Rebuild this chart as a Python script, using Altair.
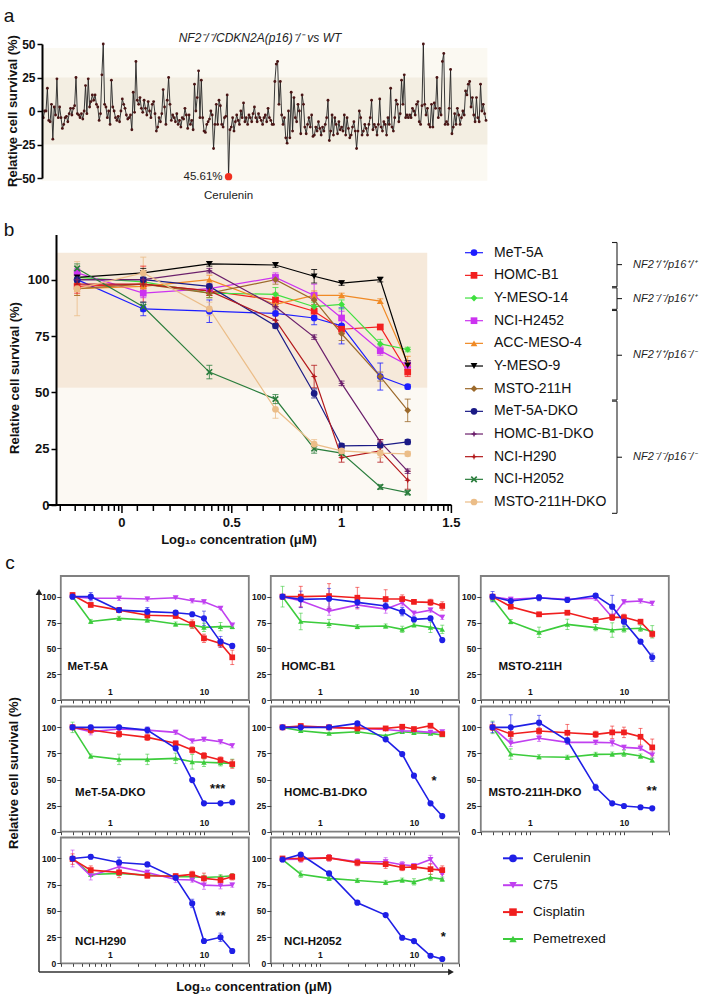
import altair as alt
import numpy as np
import pandas as pd

FONT = "Liberation Sans"
W, H = 708, 1000

# ======================= DATA =======================
# ---- panel a
A_TITLE = "NF2⁻/⁻/CDKN2A(p16)⁻/⁻ vs WT"
A_YTITLE = "Relative cell survival (%)"
A_HIT_NAME = "Cerulenin"
A_HIT_LABEL = "45.61%"
A_YTICKS = [-50, -25, 0, 25, 50]
A_BAND_OUTER = [-52, 47]
A_BAND_INNER = [-25, 25]
A_VALUES = [
    -5, 0, 0, 17, -7, -8, 5, -21, 3, -3, 24, -5, 3, -5, -13, -10, -5, -4, -8, -2,
    2, -3, 2, 4, 25, -2, -3, -5, -2, -6, 0, 19, -2, 24, 3, 7, 12, 8, 12, 5, 3, -7, -2,
    27, 50, 5, 3, -5, 0, -10, 23, 3, 0, -5, -7, -4, -8, 0, 9, 5, 2, -3, -6,
    -5, -3, -14, 14, -1, 37, 8, 5, 10, 2, -1, 8, 2, -3, 7, 0, -5, 5, 7, -2,
    -15, -12, -5, -8, -2, 16, 3, -10, 8, 25, 5, -7, -3, -5, -8, -2, -10, -7, -12, -5,
    -6, 2, -3,
    -13, -3, -10, -7, -14, 20, 0, 10, 30, -5, 23, -5, -15, -16, -10, -8, -6, 0, -3, -28,
    -10, 5, -10, 8, 4, -10, -12, -5, -4, 12,
    -49,
    -14, -12, -5, -15, -8, -3, -7, -10, 0, -5,
    6, -8, -5, -10, -3, -5, -8, -2, 3, -5,
    -8, -2, -5, -7, -10, -5, -3, -8, 2, -5,
    -7, -10, -10, 22, 35, 37, 5, 22, -3, -10,
    -5, -20, -24, 0, -20, 14, -15, 10, -5, -8,
    5, 0, -17, 12, 5, -12, -17, -10, -5, -12,
    -3, -19, -18, -12, -15, -8, -13, -18, -12, -15,
    -10, -5, 8, -22, -15, -3, -18, -5, -10, -17,
    -8, -14, -12, -15, -3, -18, -5, -13, -20, -18,
    -12, -8, -15, -28, -15, 0, -5, -18, -15, -10,
    -13, -18, -10, -5, 8, -14, -10, -12, -18, -10,
    9, -12, -15, -8, -10, -18, -5, -10, 17, -12,
    -15, -5, 8, 5, -8, -2, 23, 5, 27, -5,
    -3, -5, -3, -5, 2, 0, -3, 5, 7, -8,
    -10, 4, 50, 5, -3, 2, -10, -12, 5, -12,
    6, 2, 25, -5, 2, -3, 37, 43, -10, -8,
    -10, 2, 31, -17, -12, -2, -10, 2, -3, -10,
    -5, 0, -3, 15, 12, 20, 22, 3, 10, -3,
    -8, 10, -5, -8, 20, 0, 5, -2, -7,
]

# ---- panel b
B_NAMES = ["MeT-5A", "HOMC-B1", "Y-MESO-14", "NCI-H2452", "ACC-MESO-4", "Y-MESO-9",
           "MSTO-211H", "MeT-5A-DKO", "HOMC-B1-DKO", "NCI-H290", "NCI-H2052", "MSTO-211H-DKO"]
B_CONC = [0.625, 1.25, 2.5, 5, 7.5, 10, 15, 20]
B_VALUES = {
    "MeT-5A":        [100, 87, 86, 85, 83, 79.5, 57, 52.5],
    "HOMC-B1":       [97, 98, 95, 91, 86, 78, 79, 59],
    "Y-MESO-14":     [101, 99, 94, 93.5, 88, 89, 71.5, 69],
    "NCI-H2452":     [103, 94, 96, 101, 93, 83, 68.5, 62],
    "ACC-MESO-4":    [96, 97, 100, 89, 93, 93, 90.5, 63],
    "Y-MESO-9":      [101, 103, 107, 106.5, 101.5, 98.5, 100, 62],
    "MSTO-211H":     [96, 98, 94, 100, 91, 76, 57, 42],
    "MeT-5A-DKO":    [100, 100, 97, 79.5, 49.5, 26.2, 26.5, 28],
    "HOMC-B1-DKO":   [100, 100, 104, 88, 74.5, 54, 28, 15],
    "NCI-H290":      [98, 98, 95, 82, 57, 21, 24, 11],
    "NCI-H2052":     [105, 88, 59, 47, 25, 23, 8, 5.5],
    "MSTO-211H-DKO": [96, 103, 87, 42.5, 27, 24, 23, 22.7],
}
B_ERRORS = {
    "MeT-5A":        [3, 3, 5, 3, 3, 8, 6, 1],
    "HOMC-B1":       [3, 8, 2, 3, 2, 2, 1, 2],
    "Y-MESO-14":     [2, 2, 2, 3, 2, 2, 2, 1],
    "NCI-H2452":     [2, 2, 2, 2, 5, 3, 2, 2],
    "ACC-MESO-4":    [3, 2, 2, 3, 2, 1, 1, 3],
    "Y-MESO-9":      [2, 2, 1, 1, 3, 1, 1, 2],
    "MSTO-211H":     [3, 2, 2, 2, 2, 3, 2, 5],
    "MeT-5A-DKO":    [2, 1, 1, 1, 2, 1, 1, 1],
    "HOMC-B1-DKO":   [1, 1, 1, 1, 1, 1, 1, 1],
    "NCI-H290":      [2, 2, 2, 2, 5, 2, 5, 4],
    "NCI-H2052":     [2, 2, 3, 2, 2, 1, 1, 1],
    "MSTO-211H-DKO": [12, 7, 3, 4, 2, 2, 2, 1],
}
B_GROUP_LABELS = ["NF2⁺/⁺/p16⁺/⁺", "NF2⁻/⁻/p16⁺/⁺", "NF2⁺/⁺/p16⁻/⁻", "NF2⁻/⁻/p16⁻/⁻"]
B_GROUP_FIRST = [0, 2, 3, 7]
B_GROUP_LAST = [1, 2, 6, 11]
B_MAJOR = [0, 0.5, 1, 1.5]
B_MINOR_FRACS = [0.14, 0.286, 0.438, 0.574, 0.665, 0.748, 0.818, 0.878, 0.93, 0.97]
B_XDOM = [-0.34, 1.5]
B_YDOM = [0, 120]
B_YTICKS = [0, 25, 50, 75, 100]
B_BAND_X = [-0.3, 1.39]
B_BAND_LOW = [0, 52]
B_BAND_HIGH = [52, 112]

# ---- panel c
C_PANELS = ["MeT-5A", "HOMC-B1", "MSTO-211H", "MeT-5A-DKO", "HOMC-B1-DKO",
            "MSTO-211H-DKO", "NCI-H290", "NCI-H2052"]
C_DRUGS = ["Cerulenin", "C75", "Cisplatin", "Pemetrexed"]
C_CONC = [0.4, 0.625, 1.25, 2.5, 5, 7.5, 10, 15, 20]
C_VALUES = {
    "MeT-5A": {
        "Cerulenin": [100, 100, 87, 85.5, 84.5, 83, 79, 56.5, 52.3],
        "C75": [100, 98.4, 98.4, 97.7, 99, 96, 95, 88.7, 72.6],
        "Cisplatin": [101.6, 92, 87, 82, 81.3, 73.5, 59.7, 54.8, 41.3],
        "Pemetrexed": [100, 76, 79, 77.4, 73.5, 72.6, 70.3, 71, 71]},
    "HOMC-B1": {
        "Cerulenin": [100, 97.4, 98, 94.5, 91, 85.5, 78, 79, 58],
        "C75": [100, 96, 86, 92, 88, 94, 84, 87, 80],
        "Cisplatin": [100, 100, 100.6, 99, 97.7, 97.7, 95, 94.5, 91],
        "Pemetrexed": [100, 76, 74, 71, 71.6, 68.4, 72.6, 70.3, 68.4]},
    "MSTO-211H": {
        "Cerulenin": [100, 95.8, 99, 96.8, 101, 90.3, 75.8, 56.5, 41.3],
        "C75": [100, 97.4, 99, 97.4, 98.4, 80, 95, 95.8, 93.5],
        "Cisplatin": [100, 90.3, 82.9, 84.5, 77.4, 80, 80, 75.8, 63.9],
        "Pemetrexed": [98.4, 75.8, 65.5, 73.2, 70, 67.7, 68.7, 69.4, 66]},
    "MeT-5A-DKO": {
        "Cerulenin": [100, 100, 100, 97.4, 79.9, 49.5, 27.2, 27.2, 28.2],
        "C75": [100, 95.8, 98.4, 97.4, 95.2, 86.9, 88.5, 86.2, 82.4],
        "Cisplatin": [100, 97.4, 93.6, 90.4, 84.7, 78.3, 72.8, 68.7, 64.8],
        "Pemetrexed": [100, 72.5, 69.3, 69.3, 70.3, 67, 66.5, 66, 65.5]},
    "HOMC-B1-DKO": {
        "Cerulenin": [100, 100, 100, 103.8, 88.5, 74.4, 53.7, 27.2, 15],
        "C75": [100, 100.6, 100, 99, 98, 96.5, 96.5, 95.2, 95.8],
        "Cisplatin": [100, 101.3, 100, 99, 99, 100.6, 98.4, 101.6, 93.6],
        "Pemetrexed": [100, 96.8, 94.2, 95.8, 92, 95.8, 94.9, 94.2, 92.7]},
    "MSTO-211H-DKO": {
        "Cerulenin": [100, 100, 104.5, 87.3, 42.5, 27.2, 24.6, 23.4, 22.4],
        "C75": [100, 84.7, 89.5, 85.6, 85.6, 85.2, 80.8, 79.9, 73.5],
        "Cisplatin": [100, 93.6, 96.5, 94.8, 93.3, 95.2, 95.2, 91, 80.8],
        "Pemetrexed": [100, 74.4, 71.8, 71.3, 74.1, 74.4, 75.1, 72.5, 68.7]},
    "NCI-H290": {
        "Cerulenin": [100, 101.6, 96.2, 94.3, 81.6, 57.1, 21.3, 24.8, 11.7],
        "C75": [100, 83.5, 92, 86.7, 80, 79.4, 74.6, 74, 74.6],
        "Cisplatin": [99.4, 88.9, 86.7, 83.5, 83.2, 84.8, 81, 79.4, 82.5],
        "Pemetrexed": [100, 84.8, 85.7, 84.1, 82.5, 82.5, 81.9, 82.5, 83.5]},
    "NCI-H2052": {
        "Cerulenin": [99, 103.8, 85.7, 57.8, 46, 24.4, 21.2, 7.2, 4.1],
        "C75": [99, 99.4, 100.6, 96.8, 96.8, 94, 93, 99, 85],
        "Cisplatin": [100, 100, 100.6, 96, 94.6, 91.4, 92, 89.8, 88.9],
        "Pemetrexed": [99, 85, 81, 79, 77.1, 79.3, 77.7, 81.9, 80.3]},
}
C_ERRORS = {
    "MeT-5A": {"Cerulenin": [2, 4, 2, 4, 2, 2, 7, 5, 2], "C75": [1, 1, 2, 2, 1, 2, 2, 1, 1],
               "Cisplatin": [2, 2, 2, 3, 2, 4, 4, 4, 7], "Pemetrexed": [2, 2, 2, 2, 2, 3, 4, 4, 2]},
    "HOMC-B1": {"Cerulenin": [2, 8, 10, 5, 3, 4, 2, 2, 2], "C75": [2, 6, 4, 4, 4, 3, 2, 2, 2],
                "Cisplatin": [2, 10, 12, 10, 9, 4, 2, 3, 4], "Pemetrexed": [10, 8, 4, 2, 2, 3, 2, 5, 4]},
    "MSTO-211H": {"Cerulenin": [5, 3, 3, 2, 2, 11, 5, 2, 4], "C75": [2, 2, 2, 2, 2, 3, 2, 2, 2],
                  "Cisplatin": [2, 2, 2, 2, 2, 3, 3, 2, 3], "Pemetrexed": [3, 2, 5, 5, 3, 7, 3, 3, 6]},
    "MeT-5A-DKO": {"Cerulenin": [2, 2, 2, 3, 2, 1, 1, 1, 1], "C75": [2, 3, 2, 2, 2, 2, 2, 2, 2],
                   "Cisplatin": [2, 3, 3, 3, 2, 3, 3, 3, 4], "Pemetrexed": [5, 2, 5, 5, 5, 7, 4, 3, 4]},
    "HOMC-B1-DKO": {"Cerulenin": [1, 1, 1, 1, 1, 1, 1, 1, 1], "C75": [1, 1, 1, 1, 1, 1, 1, 1, 1],
                    "Cisplatin": [1, 2, 1, 1, 1, 1, 1, 2, 2], "Pemetrexed": [1, 1, 1, 1, 1, 1, 1, 1, 1]},
    "MSTO-211H-DKO": {"Cerulenin": [5, 12, 7, 3, 3, 1, 1, 1, 1], "C75": [2, 3, 3, 2, 2, 3, 2, 2, 3],
                      "Cisplatin": [3, 4, 3, 8, 3, 6, 5, 8, 8], "Pemetrexed": [6, 5, 2, 2, 2, 2, 3, 2, 2]},
    "NCI-H290": {"Cerulenin": [2, 2, 5, 2, 2, 4, 2, 4, 2], "C75": [8, 4, 3, 2, 3, 2, 4, 3, 2],
                 "Cisplatin": [5, 4, 5, 2, 2, 3, 5, 4, 3], "Pemetrexed": [2, 2, 2, 2, 2, 2, 2, 2, 2]},
    "NCI-H2052": {"Cerulenin": [2, 1, 2, 1, 1, 1, 1, 1, 1], "C75": [2, 3, 3, 3, 4, 3, 2, 4, 4],
                  "Cisplatin": [1, 3, 3, 3, 4, 3, 2, 5, 4], "Pemetrexed": [1, 3, 2, 2, 2, 2, 3, 3, 2]},
}
C_STARS = {"MeT-5A-DKO": ("***", 14, 45), "HOMC-B1-DKO": ("*", 16.4, 52),
           "MSTO-211H-DKO": ("**", 19.7, 43), "NCI-H290": ("**", 15, 49),
           "NCI-H2052": ("*", 20.5, 29)}
C_XDOM = [0.3, 30]
C_YDOM = [0, 120]
C_YTICKS = [0, 25, 50, 75, 100]
X_TITLE = "Log₁₀ concentration (μM)"

# ======================= STYLE =======================
STAR4 = "M0,-1L0.28,-0.28L1,0L0.28,0.28L0,1L-0.28,0.28L-1,0L-0.28,-0.28Z"
XSHAPE = "M-1,-0.65L-0.65,-1L0,-0.35L0.65,-1L1,-0.65L0.35,0L1,0.65L0.65,1L0,0.35L-0.65,1L-1,0.65L-0.35,0Z"
B_COLORS = ["#1d1dff", "#f22020", "#3fe03f", "#cc33f0", "#f08a25", "#000000",
            "#9c6a2c", "#1b1b86", "#6b1f6b", "#b3191c", "#2a7d3c", "#ebbd88"]
B_SHAPES = ["circle", "square", "diamond", "square", "triangle-up", "triangle-down",
            "diamond", "circle", STAR4, STAR4, XSHAPE, "circle"]
B_SIZES = [45, 45, 22, 85, 75, 95, 55, 45, 25, 60, 45, 100]
C_COLORS = ["#1f1fe6", "#c040f0", "#f01e1e", "#3ccc3c"]
C_SHAPES = ["circle", "triangle-down", "square", "triangle-up"]
C_SIZES = [38, 30, 40, 22]
C_DRAW_ORDER = ["Pemetrexed", "C75", "Cisplatin", "Cerulenin"]
C_COL_X = [(60.8, 248.8), (270.8, 458.8), (480.8, 668.8)]
C_ROW_Y = [(700, 576), (831.7, 706.5), (963.3, 837.5)]
C_NAME_POS = [(6.6, 90.7), (10.7, 90.7), (17.6, 90.7), (14.3, 86.6), (13.3, 86.6),
              (7.6, 86.6), (14.3, 104.4), (13.3, 104.4)]


def lscale(domain, rng):
    return alt.Scale(domain=domain, range=rng, nice=False, zero=False)


def text_at(txt, x, y, size=12, weight="normal", style="normal", angle=0,
            align="center", color="#111"):
    df = pd.DataFrame({"t": [txt]})
    return alt.Chart(df).mark_text(
        align=align, baseline="middle", fontSize=size, fontWeight=weight,
        fontStyle=style, angle=angle, font=FONT, color=color
    ).encode(x=alt.value(x), y=alt.value(y), text="t:N")


layers = []

# ======================= PANEL A =======================
n = len(A_VALUES)
a_df = pd.DataFrame({"i": np.arange(n), "v": A_VALUES})
hit = int(np.argmin(A_VALUES))
a_hit = pd.DataFrame({"i": [hit], "v": [A_VALUES[hit]], "pct": [A_HIT_LABEL], "name": [A_HIT_NAME]})
ax_s = lscale([0, n - 1], [43.3, 486])
ay_s = lscale([-50, 50], [178, 44])
a_axis = alt.Axis(orient="left", offset=-42, values=A_YTICKS, title=None, grid=False, zindex=1,
                  domainColor="#000", domainWidth=2, tickColor="#000", tickWidth=1.5,
                  tickSize=5, labelFont=FONT, labelFontSize=12, labelFontWeight="bold",
                  labelColor="#111", labelPadding=2)
aX = alt.X("i:Q", scale=ax_s, axis=None)
aY = alt.Y("v:Q", scale=ay_s)
band_o = pd.DataFrame({"x1": [-1], "x2": [n], "y1": [A_BAND_OUTER[0]], "y2": [A_BAND_OUTER[1]]})
band_i = pd.DataFrame({"x1": [-1], "x2": [n], "y1": [A_BAND_INNER[0]], "y2": [A_BAND_INNER[1]]})
a_band_o = alt.Chart(band_o).mark_rect(color="#fbf9f2").encode(
    x=alt.X("x1:Q", scale=ax_s, axis=None), x2="x2:Q",
    y=alt.Y("y1:Q", scale=ay_s, axis=a_axis), y2="y2:Q")
a_band_i = alt.Chart(band_i).mark_rect(color="#f3eee2").encode(
    x=alt.X("x1:Q", scale=ax_s, axis=None), x2="x2:Q",
    y=alt.Y("y1:Q", scale=ay_s), y2="y2:Q")
a_line = alt.Chart(a_df).mark_line(color="#222", strokeWidth=0.9).encode(x=aX, y=aY)
a_pts = alt.Chart(a_df).mark_circle(size=8, color="#4a1515", opacity=1).encode(x=aX, y=aY)
a_hit_pt = alt.Chart(a_hit).mark_circle(size=55, color="#f03020", opacity=1).encode(x=aX, y=aY)
a_pct = alt.Chart(a_hit).mark_text(align="right", baseline="middle", dx=-6, fontSize=11.5,
                                   font=FONT, color="#222").encode(x=aX, y=aY, text="pct:N")
a_name = alt.Chart(a_hit).mark_text(align="center", baseline="middle", dy=19, fontSize=11.5,
                                    font=FONT, color="#222").encode(x=aX, y=aY, text="name:N")
layers.append(alt.layer(a_band_o, a_band_i, a_line, a_pts, a_hit_pt, a_pct, a_name))

# ======================= PANEL B =======================
rows = []
for name in B_NAMES:
    for c, v, e in zip(B_CONC, B_VALUES[name], B_ERRORS[name]):
        rows.append({"series": name, "lx": float(np.log10(c)), "v": v, "lo": v - e, "hi": v + e})
b_df = pd.DataFrame(rows)
b_minor = [m + 0.5 * f for m in [-0.5] + B_MAJOR[:-1] for f in B_MINOR_FRACS]
b_minor = [t for t in b_minor if B_XDOM[0] <= t <= B_XDOM[1]]
bx_s = lscale(B_XDOM, [47.3, 451.4])
by_s = lscale(B_YDOM, [505, 234.6])
b_yaxis = alt.Axis(orient="left", offset=-56, values=B_YTICKS, title=None, grid=False, zindex=1,
                   domainColor="#000", domainWidth=2, tickColor="#000", tickWidth=1.5, tickSize=5,
                   labelFont=FONT, labelFontSize=13, labelFontWeight="bold", labelColor="#111",
                   labelPadding=2)
bb_low = pd.DataFrame({"x1": [B_BAND_X[0]], "x2": [B_BAND_X[1]], "y1": [B_BAND_LOW[0]], "y2": [B_BAND_LOW[1]]})
bb_high = pd.DataFrame({"x1": [B_BAND_X[0]], "x2": [B_BAND_X[1]], "y1": [B_BAND_HIGH[0]], "y2": [B_BAND_HIGH[1]]})
b_band_l = alt.Chart(bb_low).mark_rect(color="#fcf9f3").encode(
    x=alt.X("x1:Q", scale=bx_s, axis=None), x2="x2:Q",
    y=alt.Y("y1:Q", scale=by_s, axis=b_yaxis), y2="y2:Q")
b_band_h = alt.Chart(bb_high).mark_rect(color="#f6e9da").encode(
    x=alt.X("x1:Q", scale=bx_s), x2="x2:Q",
    y=alt.Y("y1:Q", scale=by_s), y2="y2:Q")
# x axis of panel b, drawn with marks through the x scale
b_dom = alt.Chart(pd.DataFrame({"x1": [B_XDOM[0]], "x2": [B_XDOM[1]]})).mark_rule(
    color="#000", strokeWidth=2).encode(x=alt.X("x1:Q", scale=bx_s), x2="x2:Q", y=alt.value(505))
b_tmin = alt.Chart(pd.DataFrame({"t": b_minor})).mark_rule(color="#000", strokeWidth=1.5).encode(
    x=alt.X("t:Q", scale=bx_s), y=alt.value(505), y2=alt.value(511))
b_maj_df = pd.DataFrame({"t": B_MAJOR, "lab": [f"{m:g}" for m in B_MAJOR]})
b_tmaj = alt.Chart(b_maj_df).mark_rule(color="#000", strokeWidth=1.5).encode(
    x=alt.X("t:Q", scale=bx_s), y=alt.value(505), y2=alt.value(513))
b_tlab = alt.Chart(b_maj_df).mark_text(baseline="top", align="center", fontSize=13, fontWeight="bold",
                                       font=FONT, color="#111").encode(
    x=alt.X("t:Q", scale=bx_s), y=alt.value(517), text="lab:N")
b_color = alt.Color("series:N", scale=alt.Scale(domain=B_NAMES, range=B_COLORS), legend=None)
b_shape = alt.Shape("series:N", scale=alt.Scale(domain=B_NAMES, range=B_SHAPES), legend=None)
b_size = alt.Size("series:O", scale=alt.Scale(domain=B_NAMES, range=B_SIZES), legend=None)
bX = alt.X("lx:Q", scale=bx_s)
b_err = alt.Chart(b_df).mark_rule(strokeWidth=1, opacity=0.8).encode(
    x=bX, y=alt.Y("lo:Q", scale=by_s), y2="hi:Q", color=b_color)
b_cap1 = alt.Chart(b_df).mark_tick(orient="horizontal", size=6, thickness=1, opacity=0.8).encode(
    x=bX, y=alt.Y("lo:Q", scale=by_s), color=b_color)
b_cap2 = alt.Chart(b_df).mark_tick(orient="horizontal", size=6, thickness=1, opacity=0.8).encode(
    x=bX, y=alt.Y("hi:Q", scale=by_s), color=b_color)
b_line = alt.Chart(b_df).mark_line(strokeWidth=1.2).encode(
    x=bX, y=alt.Y("v:Q", scale=by_s), color=b_color)
b_pts = alt.Chart(b_df).mark_point(filled=True, opacity=1).encode(
    x=bX, y=alt.Y("v:Q", scale=by_s), color=b_color, shape=b_shape, size=b_size)
layers.append(alt.layer(b_band_l, b_band_h, b_dom, b_tmin, b_tmaj, b_tlab,
                        b_err, b_cap1, b_cap2, b_line, b_pts))

# legend b + braces
bl_df = pd.DataFrame({"series": B_NAMES, "k": np.arange(len(B_NAMES))})
bl_y = lscale([0, len(B_NAMES) - 1], [252.7, 502])
blY = alt.Y("k:Q", scale=bl_y, axis=None)
bl_rule = alt.Chart(bl_df).mark_rule(strokeWidth=1.2).encode(
    x=alt.value(465), x2=alt.value(483), y=blY, color=b_color)
bl_pts = alt.Chart(bl_df).mark_point(filled=True, opacity=1).encode(
    x=alt.value(474), y=blY, color=b_color, shape=b_shape, size=b_size)
bl_txt = alt.Chart(bl_df).mark_text(align="left", baseline="middle", fontSize=14, font=FONT,
                                    color="#111").encode(x=alt.value(494), y=blY, text="series:N")
br_df = pd.DataFrame({"lab": B_GROUP_LABELS, "k0": B_GROUP_FIRST, "k1": B_GROUP_LAST})
br_df["t"] = br_df["k0"] - 0.45
br_df["b"] = br_df["k1"] + 0.5
br_df["m"] = (br_df["t"] + br_df["b"]) / 2
br_v = alt.Chart(br_df).mark_rule(color="#222", strokeWidth=1.1).encode(
    x=alt.value(617), y=alt.Y("t:Q", scale=bl_y, axis=None), y2="b:Q")
br_t = alt.Chart(br_df).mark_rule(color="#222", strokeWidth=1.1).encode(
    x=alt.value(612), x2=alt.value(617), y=alt.Y("t:Q", scale=bl_y, axis=None))
br_b = alt.Chart(br_df).mark_rule(color="#222", strokeWidth=1.1).encode(
    x=alt.value(612), x2=alt.value(617), y=alt.Y("b:Q", scale=bl_y, axis=None))
br_m = alt.Chart(br_df).mark_rule(color="#222", strokeWidth=1.1).encode(
    x=alt.value(617), x2=alt.value(622), y=alt.Y("m:Q", scale=bl_y, axis=None))
br_l = alt.Chart(br_df).mark_text(align="left", baseline="middle", fontSize=11, fontStyle="italic",
                                  font=FONT, color="#222").encode(
    x=alt.value(633), y=alt.Y("m:Q", scale=bl_y, axis=None), text="lab:N")
layers.append(alt.layer(bl_rule, bl_pts, bl_txt, br_v, br_t, br_b, br_m, br_l))

# ======================= PANEL C =======================
c_ticks = [m * d for d in (0.1, 1, 10) for m in range(1, 10)]
c_ticks = [t for t in c_ticks if C_XDOM[0] - 1e-9 <= t <= C_XDOM[1] + 1e-9]
c_color = alt.Color("drug:N", scale=alt.Scale(domain=C_DRUGS, range=C_COLORS), legend=None)
c_shape = alt.Shape("drug:N", scale=alt.Scale(domain=C_DRUGS, range=C_SHAPES), legend=None)
c_size = alt.Size("drug:O", scale=alt.Scale(domain=C_DRUGS, range=C_SIZES), legend=None)

for k, name in enumerate(C_PANELS):
    r, ci = divmod(k, 3)
    x0, x1 = C_COL_X[ci]
    yb, yt = C_ROW_Y[r]
    xs = alt.Scale(type="log", domain=C_XDOM, range=[x0, x1], nice=False)
    ys = lscale(C_YDOM, [yb, yt])
    rows = []
    for d in C_DRAW_ORDER:
        for c, v, e in zip(C_CONC, C_VALUES[name][d], C_ERRORS[name][d]):
            rows.append({"drug": d, "conc": c, "v": v, "lo": v - e, "hi": v + e})
    df = pd.DataFrame(rows)
    frame = pd.DataFrame({"x1": [C_XDOM[0]], "x2": [C_XDOM[1]], "y1": [C_YDOM[0]], "y2": [C_YDOM[1]]})
    yaxis = alt.Axis(orient="left", offset=-x0, values=C_YTICKS, title=None, grid=False, zindex=1,
                     domain=False, tickSize=4, tickColor="#444", tickWidth=1,
                     labelFont=FONT, labelFontSize=8.5, labelFontWeight="bold",
                     labelColor="#111", labelPadding=1)
    xaxis = alt.Axis(orient="bottom", offset=yb - H, values=c_ticks, title=None, grid=False, zindex=1,
                     domain=False, tickSize=3, tickColor="#444", tickWidth=1,
                     labelExpr="(datum.value == 1 || datum.value == 10) ? format(datum.value, '~g') : ''",
                     labelOverlap=False, labelFlush=False, labelBaseline="middle",
                     labelFont=FONT, labelFontSize=8.5, labelFontWeight="bold",
                     labelColor="#111", labelPadding=-12)
    fr = alt.Chart(frame).mark_rect(fillOpacity=0, stroke="#808080", strokeWidth=1.8).encode(
        x=alt.X("x1:Q", scale=xs, axis=xaxis), x2="x2:Q",
        y=alt.Y("y1:Q", scale=ys, axis=yaxis), y2="y2:Q")
    cX = alt.X("conc:Q", scale=xs)
    err = alt.Chart(df).mark_rule(strokeWidth=1, opacity=0.6).encode(
        x=cX, y=alt.Y("lo:Q", scale=ys), y2="hi:Q", color=c_color)
    cap1 = alt.Chart(df).mark_tick(orient="horizontal", size=4, thickness=1, opacity=0.6).encode(
        x=cX, y=alt.Y("lo:Q", scale=ys), color=c_color)
    cap2 = alt.Chart(df).mark_tick(orient="horizontal", size=4, thickness=1, opacity=0.6).encode(
        x=cX, y=alt.Y("hi:Q", scale=ys), color=c_color)
    ln = alt.Chart(df).mark_line(strokeWidth=1.6).encode(
        x=cX, y=alt.Y("v:Q", scale=ys), color=c_color)
    pts = alt.Chart(df).mark_point(filled=True, opacity=1).encode(
        x=cX, y=alt.Y("v:Q", scale=ys), color=c_color, shape=c_shape, size=c_size)
    dx, dy = C_NAME_POS[k]
    nm = text_at(name, x0 + dx, yt + dy, size=11.5, weight="bold", align="left")
    parts = [fr, err, cap1, cap2, ln, pts, nm]
    if name in C_STARS:
        s, sx, sy = C_STARS[name]
        sdf = pd.DataFrame({"s": [s], "x": [sx], "y": [sy]})
        parts.append(alt.Chart(sdf).mark_text(align="center", baseline="middle", dy=4, fontSize=13,
                                              fontWeight="bold", font=FONT, color="#111").encode(
            x=alt.X("x:Q", scale=xs), y=alt.Y("y:Q", scale=ys), text="s:N"))
    layers.append(alt.layer(*parts))

# legend c
cl_df = pd.DataFrame({"drug": C_DRUGS, "k": np.arange(len(C_DRUGS))})
cl_y = lscale([0, len(C_DRUGS) - 1], [858.3, 939])
clY = alt.Y("k:Q", scale=cl_y, axis=None)
cl_size = alt.Size("drug:O", scale=alt.Scale(domain=C_DRUGS, range=[60, 55, 60, 45]), legend=None)
cl_rule = alt.Chart(cl_df).mark_rule(strokeWidth=2).encode(
    x=alt.value(503), x2=alt.value(523), y=clY, color=c_color)
cl_pts = alt.Chart(cl_df).mark_point(filled=True, opacity=1).encode(
    x=alt.value(513), y=clY, color=c_color, shape=c_shape, size=cl_size)
cl_txt = alt.Chart(cl_df).mark_text(align="left", baseline="middle", fontSize=13.5, font=FONT,
                                    color="#111").encode(x=alt.value(533), y=clY, text="drug:N")
layers.append(alt.layer(cl_rule, cl_pts, cl_txt))

# ======================= DECORATIONS =======================
one = pd.DataFrame({"t": [""]})
deco = [
    text_at("a", 9, 16, size=19),
    text_at("b", 9, 230, size=19),
    text_at("c", 10, 563, size=19),
    text_at(A_TITLE, 260, 38, size=12, style="italic", color="#222"),
    text_at(A_YTITLE, 13, 111, size=13, weight="bold", angle=270),
    text_at(A_YTITLE, 15, 378, size=13, weight="bold", angle=270),
    text_at(X_TITLE, 239, 540, size=13, weight="bold"),
    text_at(A_YTITLE, 14, 773, size=13, weight="bold", angle=270),
    text_at(X_TITLE, 254, 987, size=13, weight="bold"),
    alt.Chart(one).mark_rule(color="#333", strokeWidth=1.5).encode(
        x=alt.value(39), y=alt.value(593), y2=alt.value(972)),
    alt.Chart(one).mark_rule(color="#333", strokeWidth=1.5).encode(
        x=alt.value(39), x2=alt.value(449), y=alt.value(972)),
    alt.Chart(one).mark_point(shape="triangle-up", filled=True, size=45, color="#222", opacity=1).encode(
        x=alt.value(39), y=alt.value(592)),
    alt.Chart(one).mark_point(shape="triangle-right", filled=True, size=45, color="#222", opacity=1).encode(
        x=alt.value(451), y=alt.value(972)),
]
layers.extend(deco)

chart = alt.layer(*layers).resolve_scale(
    x="independent", y="independent", color="independent", shape="independent", size="independent"
).resolve_axis(x="independent", y="independent").properties(
    width=W, height=H, autosize=alt.AutoSizeParams(type="none"), padding=0
).configure_view(stroke=None)

chart.save("out.html", embed_options={"renderer": "svg", "actions": False})
